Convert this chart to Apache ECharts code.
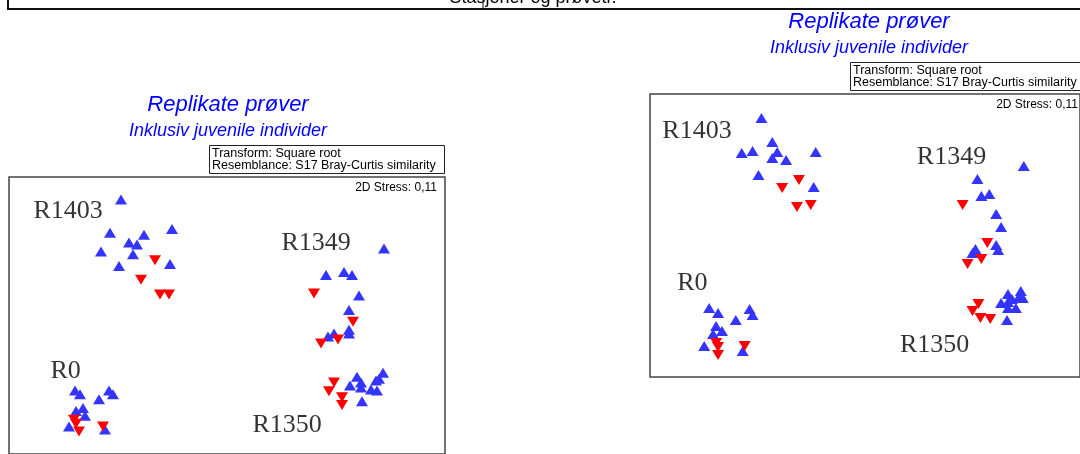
<!DOCTYPE html>
<html>
<head>
<meta charset="utf-8">
<script src="https://cdn.jsdelivr.net/npm/echarts@6/dist/echarts.min.js"></script>
<style>html,body{margin:0;padding:0;background:#fff}#c{width:1080px;height:454px}</style>
</head>
<body>
<div id="c"></div>
<script>
// Texts
const topText = 'Stasjoner og prøvetr.';
const titleText = 'Replikate prøver';
const subtitleText = 'Inklusiv juvenile individer';
const boxLines = ['Transform: Square root', 'Resemblance: S17 Bray-Curtis similarity'];
const stressText = '2D Stress: 0,11';
const clusterNames = ['R1403', 'R1349', 'R0', 'R1350'];

// MDS coordinates, left panel (blue = up-triangles, red = down-triangles)
const leftBlue = [
  [1.12,2.60],[1.01,2.26],[1.35,2.24],[1.63,2.30],[1.20,2.16],[1.28,2.14],[0.92,2.07],[1.24,2.04],[1.10,1.92],[1.61,1.94],
  [3.75,2.10],[3.17,1.83],[3.35,1.86],[3.43,1.83],[3.50,1.62],[3.40,1.47],[3.40,1.27],[3.40,1.23],[3.19,1.20],[3.25,1.23],
  [3.48,0.79],[3.74,0.83],[3.70,0.77],[3.67,0.75],[3.52,0.73],[3.52,0.68],[3.41,0.70],[3.62,0.66],[3.68,0.65],[3.53,0.54],
  [0.66,0.65],[0.71,0.61],[0.90,0.56],[1.00,0.65],[1.04,0.61],[0.74,0.47],[0.67,0.44],[0.76,0.39],[0.60,0.28],[0.96,0.25]
];
const leftRed = [
  [1.46,1.98],[1.32,1.78],[1.51,1.63],[1.60,1.63],
  [3.05,1.64],[3.44,1.35],[3.29,1.17],[3.12,1.13],
  [3.25,0.73],[3.20,0.64],[3.33,0.58],[3.33,0.50],
  [0.65,0.35],[0.67,0.31],[0.70,0.23],[0.94,0.28]
];
const leftLabelPos = [[0.24,2.48],[2.72,2.15],[0.41,0.845],[2.43,0.295]];

// MDS coordinates, right panel
const rightBlue = [
  [1.13,2.59],[1.24,2.35],[1.04,2.26],[0.93,2.24],[1.29,2.25],[1.24,2.19],[1.38,2.17],[1.68,2.25],[1.10,2.02],[1.66,1.90],
  [3.79,2.11],[3.32,1.98],[3.36,1.81],[3.44,1.83],[3.51,1.63],[3.56,1.50],[3.51,1.32],[3.53,1.27],[3.30,1.28],[3.27,1.24],
  [3.63,0.83],[3.76,0.86],[3.78,0.79],[3.74,0.80],[3.56,0.74],[3.63,0.75],[3.63,0.69],[3.71,0.69],[3.62,0.57],[3.67,0.78],
  [0.60,0.69],[0.69,0.64],[0.87,0.57],[1.01,0.68],[1.04,0.62],[0.67,0.51],[0.73,0.46],[0.64,0.43],[0.55,0.31],[0.94,0.26]
];
const rightRed = [
  [1.51,1.97],[1.34,1.89],[1.49,1.70],[1.63,1.72],
  [3.17,1.72],[3.42,1.34],[3.36,1.18],[3.22,1.13],
  [3.33,0.73],[3.27,0.66],[3.35,0.59],[3.45,0.58],
  [0.67,0.34],[0.69,0.30],[0.69,0.22],[0.96,0.31]
];
const rightLabelPos = [[0.12,2.46],[2.70,2.20],[0.27,0.935],[2.53,0.32]];

const BLUE = '#3434ff', RED = '#ff0000';
const panels = [
  {left: 9, top: 177, blue: leftBlue, red: leftRed, labels: leftLabelPos},
  {left: 650, top: 94, blue: rightBlue, red: rightRed, labels: rightLabelPos}
];
const W = 436, H = 283;

const grids = [], xAxes = [], yAxes = [], series = [], graphics = [];
panels.forEach((p, i) => {
  grids.push({left: p.left, top: p.top, width: W, height: H, show: true, borderColor: '#444', borderWidth: 1.5, backgroundColor: 'transparent'});
  xAxes.push({type: 'value', gridIndex: i, min: 0, max: 4.36, show: false});
  yAxes.push({type: 'value', gridIndex: i, min: 0, max: 2.83, show: false});
  series.push({type: 'scatter', xAxisIndex: i, yAxisIndex: i, data: p.blue, symbol: 'triangle', symbolSize: [12, 10], itemStyle: {color: BLUE, opacity: 1}, silent: true});
  series.push({type: 'scatter', xAxisIndex: i, yAxisIndex: i, data: p.red, symbol: 'triangle', symbolRotate: 180, symbolSize: [12, 10], itemStyle: {color: RED, opacity: 1}, silent: true});
  series.push({type: 'scatter', xAxisIndex: i, yAxisIndex: i, silent: true, symbolSize: 1, itemStyle: {color: 'transparent'},
    data: p.labels.map((c, k) => ({name: clusterNames[k], value: c})),
    label: {show: true, position: 'right', distance: 0, formatter: '{b}', fontFamily: 'Liberation Serif', fontSize: 26, color: '#000'}});
  const cx = p.left + 219;
  graphics.push({type: 'text', style: {text: titleText, x: cx, y: p.top - 72, textAlign: 'center', textVerticalAlign: 'middle', font: 'italic 22px "Liberation Sans", Arial', fill: '#0000ff'}});
  graphics.push({type: 'text', style: {text: subtitleText, x: cx, y: p.top - 46, textAlign: 'center', textVerticalAlign: 'middle', font: 'italic 18px "Liberation Sans", Arial', fill: '#0000ff'}});
  graphics.push({type: 'rect', shape: {x: p.left + 200.5, y: p.top - 31.5, width: 235, height: 28}, style: {fill: '#fff', stroke: '#222', lineWidth: 1}});
  graphics.push({type: 'text', style: {text: boxLines[0], x: p.left + 203, y: p.top - 23, textVerticalAlign: 'middle', font: '12.5px "Liberation Sans", Arial', fill: '#000'}});
  graphics.push({type: 'text', style: {text: boxLines[1], x: p.left + 203, y: p.top - 11, textVerticalAlign: 'middle', font: '12.5px "Liberation Sans", Arial', fill: '#000'}});
  graphics.push({type: 'text', style: {text: stressText, x: p.left + W - 8, y: p.top + 11, textAlign: 'right', textVerticalAlign: 'middle', font: '12px "Liberation Sans", Arial', fill: '#000'}});
});
// top table fragment
graphics.push({type: 'text', style: {text: topText, x: 533, y: 7, textAlign: 'center', textVerticalAlign: 'bottom', font: '18px "Liberation Sans", Arial', fill: '#000'}});
graphics.push({type: 'line', shape: {x1: 8, y1: 9, x2: 1080, y2: 9}, style: {stroke: '#111', lineWidth: 2}});
graphics.push({type: 'line', shape: {x1: 8, y1: 0, x2: 8, y2: 10}, style: {stroke: '#111', lineWidth: 2}});
graphics.push({type: 'line', shape: {x1: 483, y1: 0, x2: 483, y2: 9}, style: {stroke: '#111', lineWidth: 1}});

const chart = echarts.init(document.getElementById('c'), null, {renderer: 'canvas'});
chart.setOption({
  animation: false,
  backgroundColor: '#fff',
  grid: grids, xAxis: xAxes, yAxis: yAxes, series: series,
  graphic: graphics
});
</script>
</body>
</html>
